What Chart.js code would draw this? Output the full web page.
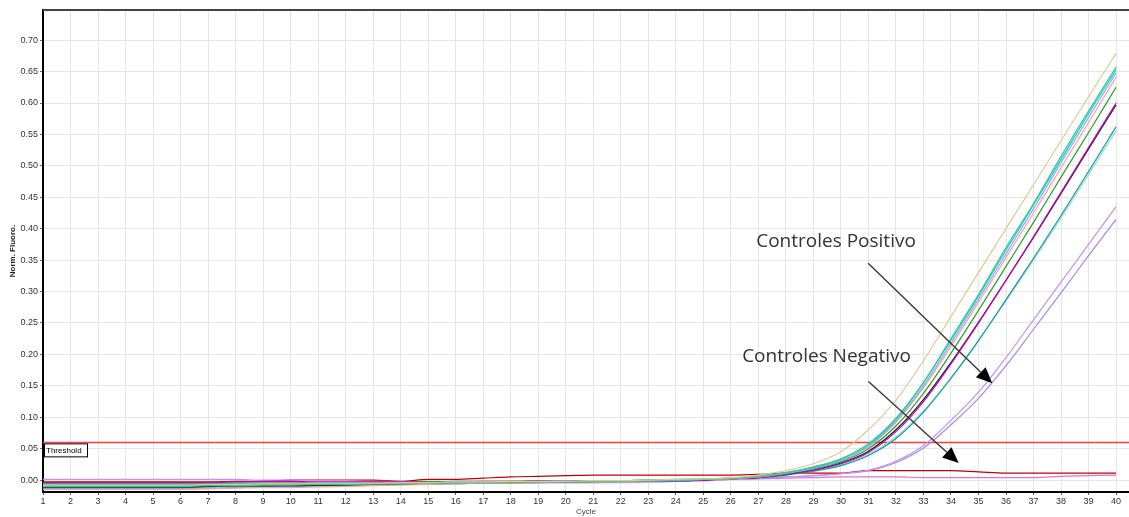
<!DOCTYPE html>
<html>
<head>
<meta charset="utf-8">
<script src="https://cdn.jsdelivr.net/npm/chart.js@4.4.1/dist/chart.umd.min.js"></script>
<style>
  html, body { margin: 0; padding: 0; background: #fff; }
  #wrap { width: 1129px; height: 517px; }
</style>
</head>
<body>
<div id="wrap"><canvas id="qpcr" width="1129" height="517"></canvas></div>
<script>
// cycles 1..40
const cycles = [];
for (let c = 1; c <= 40; c++) cycles.push(c);

const yTickStep = 0.05;
const thresholdValue = 0.06;

// positive controls (norm. fluoro.), cycle 1..40
const tan = [-0.008,-0.008,-0.008,-0.008,-0.008,-0.008,-0.007,-0.007,-0.006,-0.006,-0.005,-0.005,-0.005,-0.004,-0.004,-0.003,-0.003,-0.002,-0.002,-0.002,-0.001,-0.001,0.000,0.001,0.002,0.004,
  0.008,0.015,0.026,0.045,0.080,0.127,0.190,0.260,0.330,0.400,0.470,0.540,0.610,0.679];
const green = [-0.010,-0.010,-0.010,-0.010,-0.010,-0.010,-0.009,-0.009,-0.008,-0.008,-0.007,-0.007,-0.006,-0.006,-0.005,-0.005,-0.004,-0.004,-0.003,-0.003,-0.002,-0.002,-0.001,0.000,0.001,0.003,
  0.006,0.012,0.020,0.033,0.056,0.097,0.155,0.225,0.295,0.370,0.440,0.515,0.587,0.657];
const cyan = [-0.007,-0.007,-0.007,-0.007,-0.007,-0.007,-0.007,-0.006,-0.006,-0.006,-0.005,-0.005,-0.005,-0.004,-0.004,-0.003,-0.003,-0.003,-0.002,-0.002,-0.001,-0.001,0.000,0.001,0.002,0.003,
  0.006,0.012,0.021,0.034,0.058,0.098,0.155,0.223,0.293,0.366,0.438,0.510,0.583,0.653];
const blue = [-0.009,-0.009,-0.009,-0.009,-0.009,-0.009,-0.008,-0.008,-0.007,-0.007,-0.007,-0.006,-0.006,-0.005,-0.005,-0.004,-0.004,-0.003,-0.003,-0.002,-0.002,-0.001,-0.001,0.000,0.001,0.003,
  0.005,0.011,0.019,0.031,0.054,0.094,0.150,0.218,0.288,0.360,0.432,0.505,0.577,0.648];
const salmon = [-0.015,-0.015,-0.015,-0.015,-0.015,-0.015,-0.014,-0.013,-0.012,-0.012,-0.011,-0.010,-0.009,-0.008,-0.007,-0.006,-0.005,-0.005,-0.004,-0.003,-0.003,-0.002,-0.001,0.000,0.001,0.002,
  0.005,0.011,0.019,0.031,0.053,0.092,0.147,0.213,0.283,0.354,0.425,0.497,0.569,0.641];
const darkGreen = [-0.006,-0.006,-0.006,-0.006,-0.006,-0.006,-0.006,-0.005,-0.005,-0.005,-0.005,-0.004,-0.004,-0.004,-0.003,-0.003,-0.003,-0.002,-0.002,-0.002,-0.001,-0.001,0.000,0.000,0.001,0.003,
  0.005,0.010,0.018,0.029,0.050,0.086,0.138,0.202,0.270,0.340,0.410,0.482,0.553,0.625];
const magenta = [-0.004,-0.004,-0.004,-0.004,-0.004,-0.004,-0.004,-0.003,-0.002,-0.002,-0.003,-0.003,-0.003,-0.003,-0.003,-0.002,-0.002,-0.002,-0.001,-0.002,-0.002,-0.002,-0.001,-0.001,0.000,0.002,
  0.004,0.009,0.016,0.026,0.044,0.077,0.125,0.185,0.250,0.318,0.387,0.458,0.529,0.600];
const black = [-0.011,-0.011,-0.011,-0.011,-0.011,-0.011,-0.010,-0.009,-0.009,-0.009,-0.008,-0.008,-0.007,-0.006,-0.006,-0.005,-0.004,-0.004,-0.003,-0.003,-0.002,-0.002,-0.001,-0.001,0.000,0.002,
  0.004,0.009,0.016,0.027,0.046,0.080,0.128,0.187,0.251,0.318,0.386,0.456,0.527,0.597];
const teal = [-0.012,-0.012,-0.012,-0.012,-0.012,-0.012,-0.011,-0.010,-0.010,-0.009,-0.009,-0.008,-0.007,-0.007,-0.006,-0.005,-0.005,-0.004,-0.004,-0.003,-0.003,-0.002,-0.001,-0.001,0.000,0.002,
  0.004,0.008,0.014,0.023,0.039,0.066,0.108,0.162,0.222,0.287,0.353,0.421,0.491,0.562];
const lightCyan = [-0.009,-0.009,-0.009,-0.009,-0.009,-0.009,-0.009,-0.008,-0.008,-0.008,-0.007,-0.007,-0.006,-0.006,-0.005,-0.004,-0.004,-0.003,-0.003,-0.003,-0.002,-0.002,-0.001,0.000,0.001,0.002,
  0.004,0.008,0.015,0.024,0.041,0.069,0.110,0.163,0.222,0.285,0.350,0.417,0.486,0.556];
const violet = [0.001,0.001,0.001,0.001,0.001,0.001,0.001,0.001,0.000,0.000,-0.001,-0.001,-0.002,-0.002,-0.003,-0.003,-0.003,-0.003,-0.004,-0.004,-0.004,-0.004,-0.003,-0.002,-0.001,0.001,
  0.003,0.005,0.007,0.010,0.016,0.030,0.055,0.095,0.140,0.195,0.255,0.315,0.375,0.435];
const blueViolet = [-0.013,-0.013,-0.013,-0.013,-0.013,-0.013,-0.013,-0.012,-0.011,-0.010,-0.010,-0.009,-0.008,-0.007,-0.006,-0.006,-0.005,-0.005,-0.004,-0.004,-0.004,-0.003,-0.003,-0.002,-0.001,0.001,
  0.003,0.005,0.007,0.010,0.015,0.028,0.051,0.088,0.130,0.182,0.240,0.298,0.357,0.415];

// negative controls
const negRed = [-0.003,-0.003,-0.003,-0.003,-0.003,-0.003,-0.003,-0.002,-0.002,0.000,
  0.000,0.000,0.000,-0.002,0.001,0.001,0.003,0.005,0.006,0.007,
  0.008,0.008,0.008,0.008,0.008,0.008,0.009,0.011,0.011,0.011,
  0.015,0.015,0.015,0.015,0.013,0.011,0.011,0.011,0.011,0.011];
const negPink = [-0.006,-0.006,-0.006,-0.006,-0.006,-0.006,-0.006,-0.005,-0.005,-0.005,
  -0.004,-0.004,-0.004,-0.004,-0.003,-0.003,-0.002,-0.002,-0.002,-0.001,
  -0.001,-0.001,0.000,0.000,0.001,0.001,0.002,0.003,0.004,0.005,
  0.005,0.005,0.004,0.004,0.004,0.004,0.004,0.006,0.007,0.008];

const series = [
  { name: 'tan', data: tan, color: '#e3c88e' },
  { name: 'green', data: green, color: '#2fd07a' },
  { name: 'cyan', data: cyan, color: '#1cc4d4' },
  { name: 'blue', data: blue, color: '#86a8ff' },
  { name: 'salmon', data: salmon, color: '#ff9c9c' },
  { name: 'darkGreen', data: darkGreen, color: '#2a9e2a' },
  { name: 'magenta', data: magenta, color: '#c400c4' },
  { name: 'black', data: black, color: '#1e1e1e' },
  { name: 'teal', data: teal, color: '#139a9a' },
  { name: 'lightCyan', data: lightCyan, color: '#8fdedb' },
  { name: 'violet', data: violet, color: '#c890f0' },
  { name: 'blueViolet', data: blueViolet, color: '#9a8cf2' },
  { name: 'negRed', data: negRed, color: '#c00000' },
  { name: 'negPink', data: negPink, color: '#e072d4' }
];

function drawArrow(ctx, x1, y1, x2, y2) {
  const ang = Math.atan2(y2 - y1, x2 - x1);
  const head = 16, half = 7;
  const bx = x2 - head * Math.cos(ang), by = y2 - head * Math.sin(ang);
  ctx.strokeStyle = '#333';
  ctx.lineWidth = 1.3;
  ctx.beginPath();
  ctx.moveTo(x1, y1);
  ctx.lineTo(bx, by);
  ctx.stroke();
  ctx.fillStyle = '#000';
  ctx.beginPath();
  ctx.moveTo(x2, y2);
  ctx.lineTo(bx + half * Math.sin(ang), by - half * Math.cos(ang));
  ctx.lineTo(bx - half * Math.sin(ang), by + half * Math.cos(ang));
  ctx.closePath();
  ctx.fill();
}

const extras = {
  id: 'extras',
  beforeDatasetsDraw(chart) {
    const { ctx, chartArea: a, scales: { y } } = chart;
    const ty = Math.round(y.getPixelForValue(thresholdValue)) + 0.5;
    ctx.save();
    ctx.strokeStyle = '#ff3b3b';
    ctx.lineWidth = 1.3;
    ctx.beginPath();
    ctx.moveTo(a.left, ty);
    ctx.lineTo(a.right, ty);
    ctx.stroke();
    ctx.restore();
  },
  afterDatasetsDraw(chart) {
    const { ctx, chartArea: a, scales: { x, y } } = chart;
    ctx.save();
    // top frame
    ctx.strokeStyle = '#444';
    ctx.lineWidth = 2;
    ctx.beginPath();
    ctx.moveTo(a.left, a.top);
    ctx.lineTo(a.right, a.top);
    ctx.stroke();

    // threshold tag
    const ty = y.getPixelForValue(thresholdValue);
    ctx.fillStyle = '#fff';
    ctx.strokeStyle = '#000';
    ctx.lineWidth = 1;
    ctx.fillRect(a.left + 1, ty + 1, 43, 13);
    ctx.strokeRect(a.left + 1.5, ty + 1.5, 43, 13);
    ctx.fillStyle = '#000';
    ctx.font = '8px "Liberation Sans", Arial, sans-serif';
    ctx.textBaseline = 'middle';
    ctx.fillText('Threshold', a.left + 3, ty + 8.5);

    // annotations
    ctx.font = '19px "Open Sans", sans-serif';
    ctx.fillStyle = '#333';
    ctx.textBaseline = 'middle';
    ctx.fillText('Controles Positivo', x.getPixelForValue(26.92), y.getPixelForValue(0.380));
    ctx.fillText('Controles Negativo', x.getPixelForValue(26.41), y.getPixelForValue(0.196));
    drawArrow(ctx, x.getPixelForValue(30.99), y.getPixelForValue(0.345), x.getPixelForValue(35.5), y.getPixelForValue(0.154));
    drawArrow(ctx, x.getPixelForValue(31.0), y.getPixelForValue(0.157), x.getPixelForValue(34.28), y.getPixelForValue(0.027));
    ctx.restore();
  }
};

const tickFont = { family: '"Liberation Sans", Arial, sans-serif', size: 9 };

new Chart(document.getElementById('qpcr'), {
  type: 'line',
  data: {
    datasets: series.map(s => ({
      label: s.name,
      data: s.data.map((v, i) => ({ x: cycles[i], y: v })),
      borderColor: s.color,
      borderWidth: 1.2,
      pointRadius: 0,
      fill: false,
      cubicInterpolationMode: 'monotone'
    }))
  },
  options: {
    responsive: false,
    animation: false,
    layout: { padding: { top: 10, right: 0, left: 0, bottom: 0 } },
    plugins: { legend: { display: false }, tooltip: { enabled: false } },
    scales: {
      x: {
        type: 'linear',
        min: 1,
        max: 40.47,
        afterFit(s) { s.height = 25; },
        border: { color: '#000', width: 2 },
        grid: { color: '#e6e6e6', tickLength: 3, tickColor: '#666' },
        ticks: { stepSize: 1, includeBounds: false, autoSkip: false, maxRotation: 0, padding: 1, color: '#333', font: tickFont },
        title: { display: true, text: 'Cycle', color: '#444', font: { family: '"Liberation Sans", Arial, sans-serif', size: 8 }, padding: 0 }
      },
      y: {
        min: -0.019,
        max: 0.748,
        afterFit(s) { s.width = 43; },
        border: { color: '#000', width: 2 },
        grid: { color: '#e6e6e6', tickLength: 3, tickColor: '#666' },
        ticks: { stepSize: yTickStep, includeBounds: false, padding: 2, color: '#333', font: tickFont,
          callback: v => v.toFixed(2) },
        title: { display: true, text: 'Norm. Fluoro.', color: '#222', font: { family: '"Liberation Sans", Arial, sans-serif', size: 8, weight: 'bold' }, padding: { top: 8, bottom: 0 } }
      }
    }
  },
  plugins: [extras]
});
</script>
</body>
</html>
